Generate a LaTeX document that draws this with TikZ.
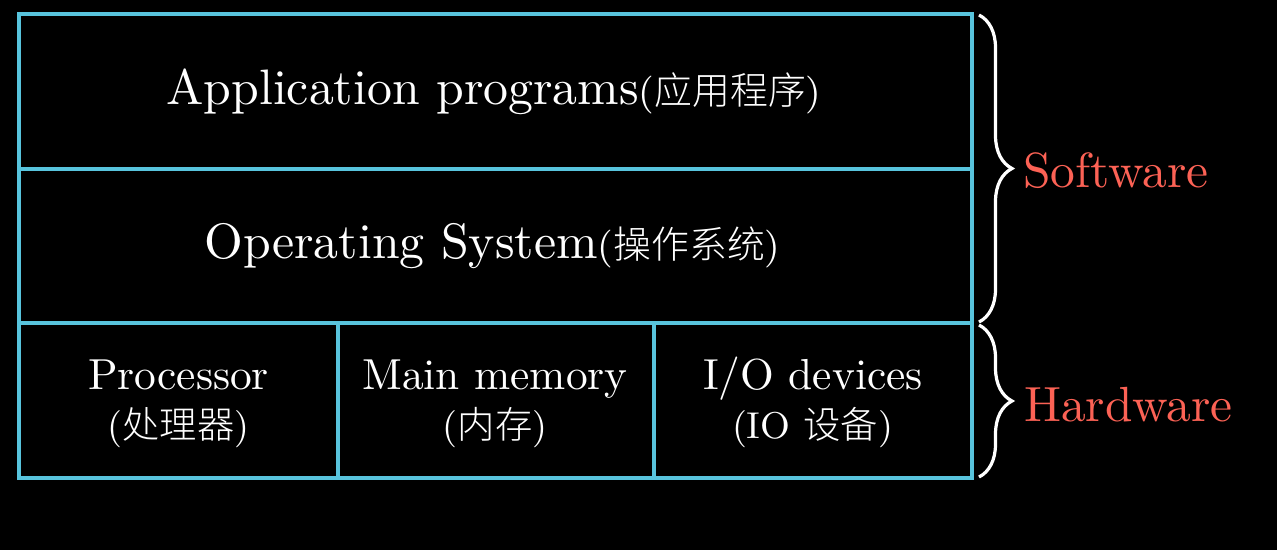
\documentclass[tikz,border=0pt]{standalone}
\usepackage{fontspec}
\newfontfamily\cjk{Noto Sans CJK SC}[UprightFont={* Light}]
\usetikzlibrary{decorations.pathreplacing}
\definecolor{boxblue}{HTML}{58C4DD}
\definecolor{labred}{HTML}{FC6255}
\newcommand{\bigtxt}{\fontsize{10}{12}\selectfont}
\newcommand{\smalltxt}{\fontsize{7.6}{9}\selectfont}
\newcommand{\smalltxtb}{\fontsize{8.6}{10}\selectfont}
\begin{document}
\begin{tikzpicture}[x=0.5pt,y=-0.5pt,
  cell/.style={draw=boxblue,line width=1.8pt,inner sep=0pt,outer sep=0pt},
  lab/.style={text=white,inner sep=0pt,anchor=base,transform shape,scale=2.49},
  labs/.style={text=white,inner sep=0pt,anchor=base,transform shape,scale=2.17},
  brc/.style={draw=white,line width=1.6pt,decorate,decoration={brace,amplitude=16.5pt}},
  side/.style={text=labred,inner sep=0pt,anchor=base west,transform shape,scale=2.47}]
\fill[black] (0,0) rectangle (1277,550);
\useasboundingbox (0,0) rectangle (1277,550);
% cells
\node[cell,minimum width=476.5pt,minimum height=77.5pt] (app) at (495.5,91.5) {};
\node[cell,minimum width=476.5pt,minimum height=77pt] (os) at (495.5,246) {};
\node[cell,minimum width=159.5pt,minimum height=77.5pt] (proc) at (178.5,400.5) {};
\node[cell,minimum width=158pt,minimum height=77.5pt] (mem) at (496,400.5) {};
\node[cell,minimum width=159pt,minimum height=77.5pt] (io) at (813,400.5) {};
% texts
\node[lab] (appt) at (494,105) {\bigtxt Application programs\smalltxt(\cjk 应用程序\rmfamily)};
\node[lab] (ost) at (492.5,259) {\bigtxt Operating System\smalltxt(\cjk 操作系统\rmfamily)};
\node[labs] (proc1) at (178.5,389) {\bigtxt Processor};
\node[labs] (proc2) at (178.5,438) {\smalltxtb(\cjk 处理器\rmfamily)};
\node[labs] (mem1) at (495,389) {\bigtxt Main memory};
\node[labs] (mem2) at (495,438) {\smalltxtb(\cjk 内存\rmfamily)};
\node[labs] (io1) at (813,389) {\bigtxt I/O devices};
\node[labs] (io2) at (812.5,438) {\smalltxtb(IO \cjk 设备\rmfamily)};
% braces
\coordinate (s1) at (979,15);
\coordinate (s2) at (979,322);
\coordinate (h1) at (979,325);
\coordinate (h2) at (979,477);
\draw[brc] (s1) -- (s2);
\draw[brc] (h1) -- (h2);
\node[side] (sw) at (1022,188) {\bigtxt Software};
\node[side] (hw) at (1023,421) {\bigtxt Hardware};
\end{tikzpicture}
\end{document}
